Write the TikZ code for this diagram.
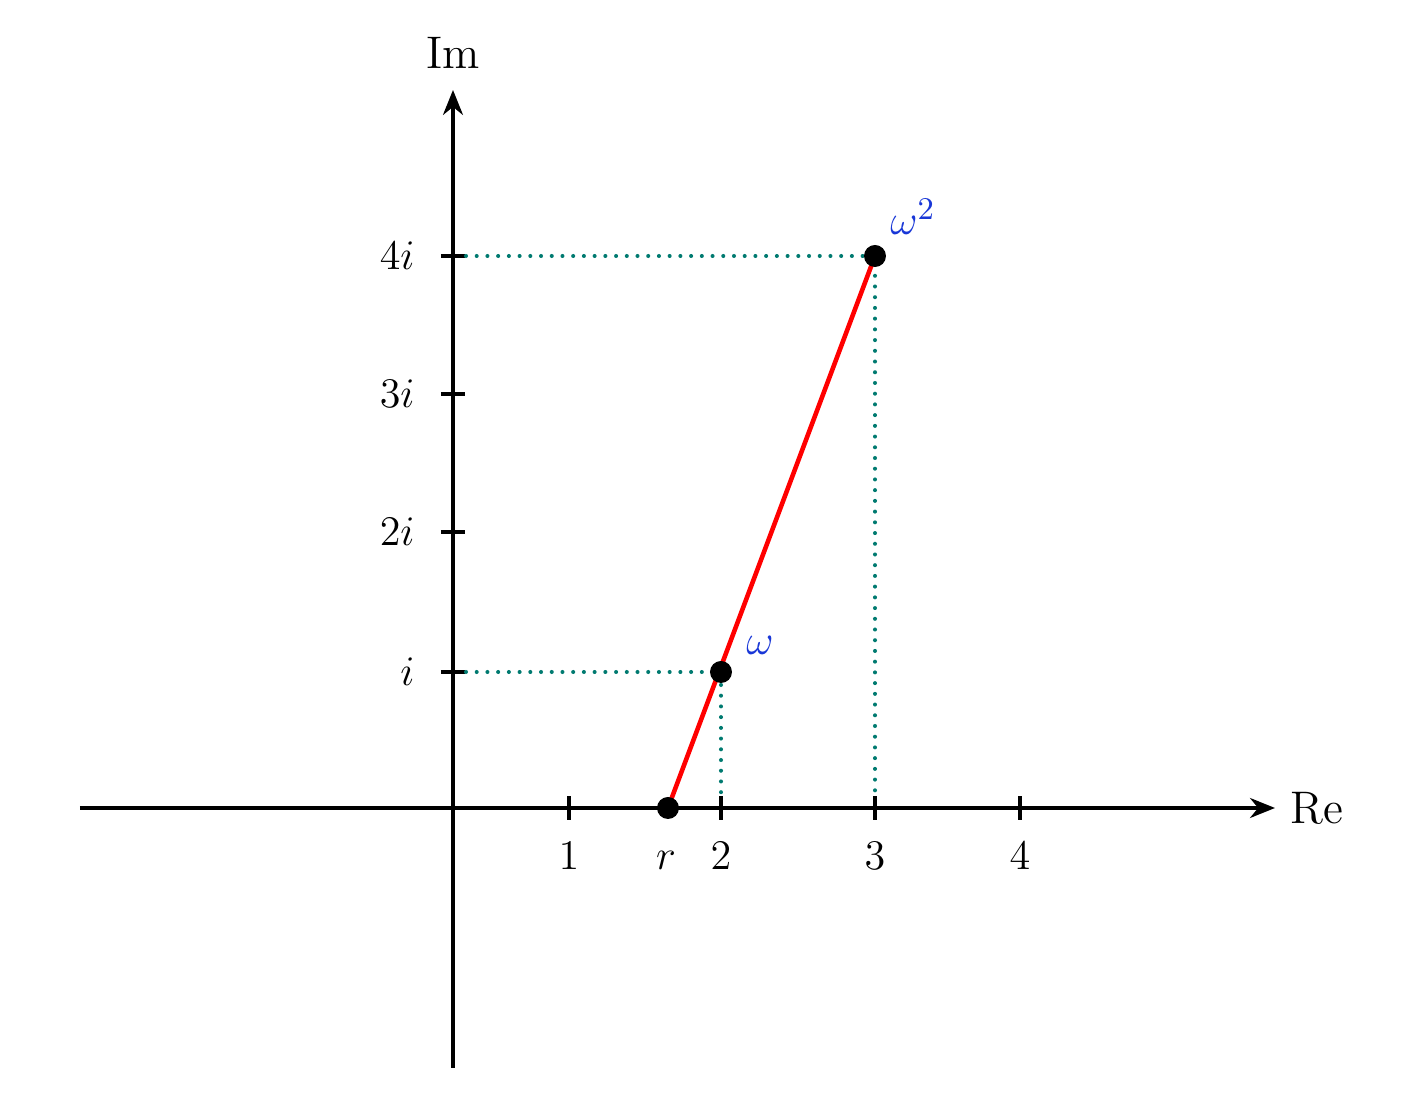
\documentclass[tikz,border=0pt]{standalone}
\usetikzlibrary{arrows.meta}
\definecolor{guideteal}{RGB}{0,122,112}
\definecolor{rootblue}{RGB}{25,55,215}
\begin{document}
\begin{tikzpicture}[font=\fontsize{13}{15}\selectfont,
	axis/.style={line width=0.9pt,-{Stealth[length=0.25cm,width=0.2cm]}},
	tick/.style={line width=0.9pt},
	guide/.style={guideteal,line width=1.15pt,line cap=round,dash pattern=on 0pt off 3.05pt},
	dot/.style={circle,fill=black,inner sep=0,outer sep=0,minimum size=0.22cm},
	root/.style={text=rootblue}]
	\useasboundingbox (-4.53,-3.09) rectangle (9.55,8.08);
	\coordinate (xl) at (-3.73,0);
	\coordinate (xr) at (8.22,0);
	\coordinate (yb) at (0,-2.60);
	\coordinate (yt) at (0,7.18);
	\draw[axis] (xl) -- (xr);
	\draw[axis] (yb) -- (yt);
	\node[anchor=west,inner sep=0.15cm] (re) at (xr) {Re};
	\node[anchor=south,inner sep=0.21cm] (im) at (yt) {Im};
	% ticks on the real axis
	\foreach \x/\t in {1.16/1,2.68/2,4.22/3,5.67/4} {
		\draw[tick] (\x,-0.12) -- (\x,0.12);
		\node[anchor=base] (x\t) at (\x,-0.62) {$\t$};
	}
	% ticks on the imaginary axis
	\foreach \y/\t in {1.36/i,2.76/2i,4.14/3i,5.52/4i} {
		\draw[tick] (-0.12,\y) -- (0.12,\y);
		\node[anchor=east] (y\t) at (-0.26,\y) {$\t$};
	}
	\coordinate (r) at (2.15,0);
	\coordinate (w) at (2.68,1.36);
	\coordinate (w2) at (4.22,5.52);
	\coordinate (wy) at (0.13,1.36);
	\coordinate (wx) at (2.68,0.12);
	\coordinate (w2y) at (0.13,5.52);
	\coordinate (w2x) at (4.22,0.12);
	\draw[guide] (wy) -- (w) -- (wx);
	\draw[guide] (w2y) -- (w2) -- (w2x);
	\draw[red,line width=1.3pt] (r) -- (w2);
	\node[dot] (rdot) at (r) {};
	\node[dot] (wdot) at (w) {};
	\node[dot] (w2dot) at (w2) {};
	\node[anchor=base] (rlab) at (2.13,-0.62) {$r$};
	\node[root] (wlab) at (3.07,1.63) {$\omega$};
	\node[root] (w2lab) at (4.60,5.91) {$\omega^2$};
\end{tikzpicture}
\end{document}
